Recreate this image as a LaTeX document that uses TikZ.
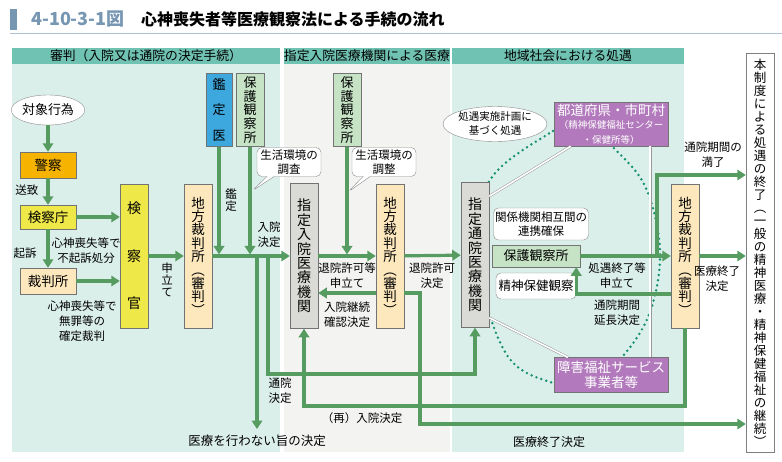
\documentclass[tikz,border=0pt]{standalone}
\usepackage{fontspec}
\setmainfont{Noto Sans CJK JP}
\usetikzlibrary{positioning, arrows.meta, calc, shapes.geometric, shapes.callouts}

\definecolor{titleblue}{RGB}{118,150,178}
\definecolor{headteal}{RGB}{112,194,178}
\definecolor{panelteal}{RGB}{218,238,234}
\definecolor{panelgrey}{RGB}{243,243,242}
\definecolor{policeorange}{RGB}{246,180,0}
\definecolor{prosyellow}{RGB}{238,232,72}
\definecolor{courtcream}{RGB}{253,232,190}
\definecolor{expertblue}{RGB}{60,168,222}
\definecolor{probgreen}{RGB}{198,227,198}
\definecolor{hospgrey}{RGB}{218,218,214}
\definecolor{welfpurple}{RGB}{178,122,188}
\definecolor{flowgreen}{RGB}{86,156,96}
\definecolor{dotgreen}{RGB}{20,145,110}

% vertical (tategaki) text: one character per line
\makeatletter
\newcommand{\tate}[2][]{\vbox{\lineskiplimit=-\maxdimen\relax#1\relax
  \@tfor\tate@c:=#2\do{\hbox to 1em{\hss\tate@c\hss}}}}
\makeatother

\begin{document}
\begin{tikzpicture}[x=1pt, y=-1pt, node distance=8pt]
    \tikzstyle{tbox} = [draw=black!55, line width=0.5pt, inner sep=0pt, align=center]
    \tikzstyle{court} = [tbox, fill=courtcream, minimum width=28pt, minimum height=144pt, font=\fontsize{13.5}{13.4}\selectfont]
    \tikzstyle{probv} = [tbox, fill=probgreen, minimum width=28pt, minimum height=73pt, font=\fontsize{13}{13.8}\selectfont]
    \tikzstyle{hosp} = [tbox, fill=hospgrey, minimum width=28pt, minimum height=145pt, font=\fontsize{14}{14.4}\selectfont]
    \tikzstyle{welf} = [tbox, fill=welfpurple, minimum width=114pt, text=white]
    \tikzstyle{roundbox} = [draw=black!45, fill=white, rounded corners=5pt, inner sep=0pt, align=center, font=\fontsize{11.5}{14}\selectfont]
    \tikzstyle{callbox} = [roundbox, rectangle callout, minimum width=64pt, minimum height=29pt]
    \tikzstyle{header} = [fill=headteal, minimum height=16pt, inner sep=0pt, font=\fontsize{12.8}{14}\selectfont]
    \tikzstyle{lbl} = [inner sep=0pt, align=center, font=\fontsize{11.5}{15}\selectfont]
    \tikzstyle{flowline} = [draw=flowgreen, line width=3.2pt, -{Triangle[length=8.5pt, width=10.5pt]}]
    \tikzstyle{dbl} = [draw=black!40, double=white, double distance=1.6pt, line width=0.5pt]

    \useasboundingbox (0,0) rectangle (782,461);

    % Title
    \fill[titleblue] (10,9) rectangle (17,30);
    \node[anchor=west, inner sep=0pt, text=titleblue, font=\fontsize{18}{20}\selectfont\bfseries] (fignum) at (31,19) {4-10-3-1図};
    \node[right=16pt of fignum, inner sep=0pt, font=\fontsize{16}{20}\selectfont\bfseries] (title) {心神喪失者等医療観察法による手続の流れ};
    \draw[titleblue!60, line width=1pt] (10,33) -- (782,33);

    % Panels and headers
    \fill[panelteal] (12,64) rectangle (280,452);
    \fill[panelgrey] (284,64) rectangle (450,452);
    \fill[panelteal] (452,64) rectangle (684,452);
    \node[header, minimum width=268pt] (h1) at (146,56) {審判（入院又は通院の決定手続）};
    \node[header, minimum width=166pt] (h2) at (367,56) {指定入院医療機関による医療};
    \node[header, minimum width=232pt] (h3) at (568,56) {地域社会における処遇};

    % Dotted circle of community care
    \draw[dotgreen, line width=2.7pt, line cap=round, dash pattern=on 0pt off 5.2pt]
        plot[smooth cycle, tension=0.6] coordinates {(490,180) (553,131) (585,118) (612,146) (645,186) (660,250) (650,312) (622,357) (588,382) (550,382) (505,352) (476,255)};

    % Left column: investigation
    \node[ellipse, draw=black!45, fill=white, minimum width=67pt, minimum height=30pt, inner sep=0pt, font=\fontsize{13}{15}\selectfont] (act) at (48,110) {対象行為};
    \node[tbox, fill=policeorange, minimum width=56pt, minimum height=26pt, font=\fontsize{13.5}{15}\selectfont] (police) at (48,165) {警察};
    \node[tbox, fill=prosyellow, minimum width=56pt, minimum height=24pt, font=\fontsize{13.5}{15}\selectfont] (prosoff) at (48,217) {検察庁};
    \node[tbox, fill=courtcream, minimum width=56pt, minimum height=26pt, font=\fontsize{13.5}{15}\selectfont] (court0) at (48,281) {裁判所};
    \node[tbox, fill=prosyellow, minimum width=28pt, minimum height=144pt, font=\fontsize{14}{15}\selectfont] (prosecutor) at (134,256) {\tate[\baselineskip=47.5pt]{検察官}};
    \node[court] (dc1) at (198,256) {\tate{地方裁判所︵審判︶}};
    \node[tbox, fill=expertblue, minimum width=26pt, minimum height=73pt, font=\fontsize{13}{15}\selectfont] (expert) at (219,110) {\tate[\baselineskip=25.5pt]{鑑定医}};
    \node[probv] (prob1) at (250,110) {\tate{保護観察所}};
    \node[callbox, callout absolute pointer={(252,191)}] (survey1) at (289,162) {生活環境の\\調査};

    % Middle column: inpatient
    \node[hosp] (hospin) at (304,256) {\tate{指定入院医療機関}};
    \node[probv] (prob2) at (347,110) {\tate{保護観察所}};
    \node[callbox, callout absolute pointer={(348,192)}] (survey2) at (384,162) {生活環境の\\調整};
    \node[court] (dc2) at (390,256) {\tate{地方裁判所︵審判︶}};

    % Right column: community
    \node[hosp] (hospout) at (475,255) {\tate{指定通院医療機関}};
    \node[ellipse, draw=black!45, fill=white, minimum width=104pt, minimum height=35pt, inner sep=0pt, align=center, font=\fontsize{10.5}{14}\selectfont] (plan) at (495,124) {処遇実施計画に\\基づく処遇};
    \node[welf, minimum height=44pt, font=\fontsize{13.5}{15}\selectfont] (pref) at (611,124) {都道府県・市町村\\[-2pt]{\fontsize{9.5}{11}\selectfont （精神保健福祉センター}\\{\fontsize{9.5}{11}\selectfont ・保健所等）}};
    \node[welf, minimum height=35pt, font=\fontsize{13.5}{15}\selectfont] (welfare) at (611,375) {障害福祉サービス\\事業者等};
    \node[roundbox, minimum width=95pt, minimum height=32pt] (coop) at (541,224) {関係機関相互間の\\連携確保};
    \node[tbox, fill=probgreen, minimum width=88pt, minimum height=22pt, font=\fontsize{13}{15}\selectfont] (prob3) at (536,256) {保護観察所};
    \node[roundbox, minimum width=80pt, minimum height=26pt, font=\fontsize{12.5}{14}\selectfont] (obs) at (536,286) {精神保健観察};
    \node[court] (dc3) at (685,256) {\tate{地方裁判所︵審判︶}};
    \node[tbox, fill=white, draw=black!50, minimum width=28pt, minimum height=399pt, font=\fontsize{12.5}{13}\selectfont] (endbox) at (760,253) {\tate{本制度による処遇の終了︵一般の精神医療・精神保健福祉の継続︶}};

    % Labels
    \node[lbl] (sochi) at (27,190) {送致};
    \node[lbl] (kiso) at (25,253) {起訴};
    \node[lbl] (fukiso) at (86,251) {心神喪失等で\\不起訴処分};
    \node[lbl] (muzai) at (82,321) {心神喪失等で\\無罪等の\\確定裁判};
    \node[lbl] (moushi1) at (167,280) {\tate[\baselineskip=12pt]{申立て}};
    \node[lbl] (kantei) at (231,200) {\tate[\baselineskip=12.5pt]{鑑定}};
    \node[lbl] (nyuin) at (269,235) {入院\\決定};
    \node[lbl] (tsuin) at (280,391) {通院\\決定};
    \node[lbl, font=\fontsize{12.5}{15}\selectfont] (nomed) at (257,441) {医療を行わない旨の決定};
    \node[lbl] (taiin) at (347,276) {退院許可等\\申立て};
    \node[lbl] (keizoku) at (347,315) {入院継続\\確認決定};
    \node[lbl] (kyoka) at (432,276) {退院許可\\決定};
    \node[lbl] (sainyu) at (362,418) {（再）入院決定};
    \node[lbl, font=\fontsize{12}{15}\selectfont] (iryoend) at (549,442) {医療終了決定};
    \node[lbl] (shuryo) at (617,276) {処遇終了等\\申立て};
    \node[lbl] (encho) at (617,313) {通院期間\\延長決定};
    \node[lbl] (manryo) at (713,155) {通院期間の\\満了};
    \node[lbl] (iryoend2) at (717,279) {医療終了\\決定};

    % Cooperation links
    \draw[dbl] ($(hospout.north east)+(0,14)$) -- ($(pref.south west)+(17,0)$);
    \draw[dbl] ($(hospout.south east)+(0,-10)$) -- ($(welfare.north west)+(14,0)$);
    \draw[dbl] ($(pref.south east)+(-18,0)$) -- ($(welfare.north east)+(-18,0)$);

    % Arrows
    \draw[flowline] (act.south) -- (police.north);
    \draw[flowline] (police) -- (prosoff);
    \draw[flowline] (prosoff) -- (court0);
    \draw[flowline] (prosoff.east) -- (prosoff.east -| prosecutor.west);
    \draw[flowline] (court0.east) -- (court0.east -| prosecutor.west);
    \draw[flowline] (prosecutor) -- (dc1);
    \draw[flowline, shorten >=1.6pt] (expert) -- (expert |- dc1.east);
    \draw[flowline, shorten >=1.6pt] (prob1) -- (prob1 |- dc1.east);
    \draw[flowline] (dc1) -- (hospin);
    \coordinate (split1) at (257,256);
    \coordinate (split2) at (268,256);
    \draw[flowline, shorten >=6pt] (split1) -- (nomed);
    \draw[flowline] (split2) -- (split2 |- 0,374) -| (hospout);

    \draw[flowline] (hospin) -- (dc2);
    \draw[flowline, shorten >=1.6pt] (prob2) -- (prob2 |- hospin.east);
    \draw[flowline] (dc2.west |- 0,293) -- (hospin.east |- 0,293);
    \draw[flowline] (dc2) -- (hospout);
    \draw[flowline] (dc2.east |- 0,293) -| (420,424) -- (endbox.west |- 0,424);
    \draw[flowline] (dc3) |- (hospin.south |- 0,406) -- (hospin);

    \draw[flowline] (prob3) -- (dc3);
    \coordinate (split3) at (657,256);
    \draw[flowline] (split3) |- (endbox.west |- 0,175);
    \draw[flowline] (dc3.west |- 0,294) -| ($(prob3.south east)+(-4,0)$);
    \draw[flowline] (dc3.east) -- (dc3.east -| endbox.west);
\end{tikzpicture}
\end{document}
